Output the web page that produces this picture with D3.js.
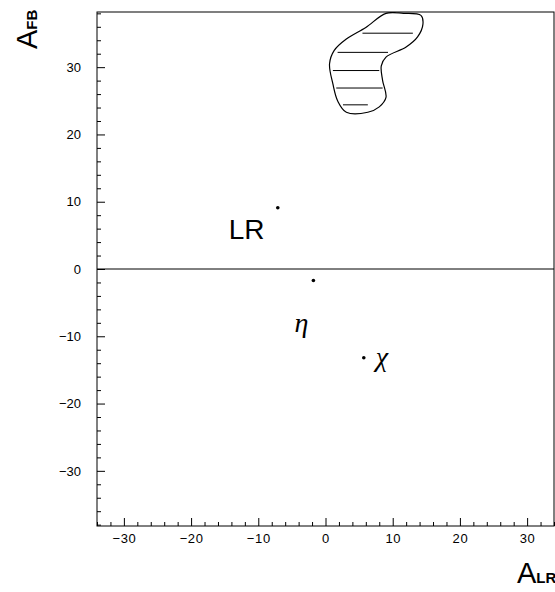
<!DOCTYPE html>
<html>
<head>
<meta charset="utf-8">
<script src="https://cdn.jsdelivr.net/npm/d3@7"></script>
<style>
  body { margin: 0; background: #fff; }
  svg { display: block; }
</style>
</head>
<body>
<svg id="chart"></svg>
<script>
// A_FB vs A_LR plot

var points = [
    { name: "LR", x: -7.1, y: 9.1 },
    { name: "eta", x: -1.8, y: -1.7 },
    { name: "chi", x: 5.7, y: -13.2 }
]

// outline of the hatched region (A_LR, A_FB)
var regionX = [9.0, 11.6, 14.2, 14.5, 13.7, 12.0, 9.0, 8.3, 8.5, 9.0, 8.0, 6.3, 3.1, 1.8, 1.1, 0.6, 1.3, 3.1, 6.0]
var regionY = [38.0, 38.0, 37.7, 36.4, 34.5, 33.0, 31.5, 30.2, 28.0, 25.5, 24.1, 23.3, 23.3, 25.0, 27.5, 30.5, 32.5, 34.2, 35.9]

// hatch lines inside it
var hatchY = [35.05, 32.2, 29.5, 26.9, 24.4]
var hatchX0 = [5.5, 1.8, 1.1, 1.6, 2.6]
var hatchX1 = [13.0, 9.3, 8.0, 8.5, 6.3]

var xTicks = [-30, -20, -10, 0, 10, 20, 30]
var yTicks = [-30, -20, -10, 0, 10, 20, 30]

var dimensions = {
    width: 555,
    height: 592,
    margin: {
        top: 12,
        bottom: 66,
        right: 1,
        left: 97
    }
}

var svg = d3.select('#chart')
    .attr("width", dimensions.width)
    .attr("height", dimensions.height)

var xScale = d3.scaleLinear()
    .domain([-34, 34])
    .range([dimensions.margin.left, dimensions.width - dimensions.margin.right])

var yScale = d3.scaleLinear()
    .domain([-38.2, 38.2])
    .range([dimensions.height - dimensions.margin.bottom, dimensions.margin.top])

var font = "'Liberation Sans', Arial, sans-serif"

svg.append("clipPath")
    .attr("id", "plotclip")
    .append("rect")
    .attr("x", xScale(-34))
    .attr("y", yScale(38.2))
    .attr("width", xScale(34) - xScale(-34))
    .attr("height", yScale(-38.2) - yScale(38.2))

// frame
svg.append("rect")
    .attr("x", xScale(-34))
    .attr("y", yScale(38.2))
    .attr("width", xScale(34) - xScale(-34))
    .attr("height", yScale(-38.2) - yScale(38.2))
    .attr("fill", "none")
    .attr("stroke", "#000")
    .attr("stroke-width", 1)

// minor + major ticks (pointing into the plot)
var minorX = d3.range(-34, 35, 2).filter(d => d % 10 != 0)
var minorY = d3.range(-38, 39, 2).filter(d => d % 10 != 0)

var xAxisG = svg.append("g")
    .attr("transform", `translate(0,${yScale(-38.2)})`)
xAxisG.append("g")
    .call(d3.axisBottom(xScale).tickValues(minorX).tickSize(-4).tickFormat(""))
xAxisG.append("g")
    .call(d3.axisBottom(xScale).tickValues(xTicks).tickSize(-8).tickPadding(8)
        .tickFormat(d => d < 0 ? "\u2212" + Math.abs(d) : d))
xAxisG.selectAll(".domain").remove()
xAxisG.selectAll("text")
    .style("font-family", font)
    .style("font-size", "13px")
    .style("letter-spacing", "0.6px")
    .attr("fill", "#000")

var yAxisG = svg.append("g")
    .attr("transform", `translate(${xScale(-34)},0)`)
yAxisG.append("g")
    .call(d3.axisLeft(yScale).tickValues(minorY).tickSize(-4).tickFormat(""))
yAxisG.append("g")
    .call(d3.axisLeft(yScale).tickValues(yTicks).tickSize(-8).tickPadding(16)
        .tickFormat(d => d < 0 ? "\u2212" + Math.abs(d) : d))
yAxisG.selectAll(".domain").remove()
yAxisG.selectAll("text")
    .style("font-family", font)
    .style("font-size", "13px")
    .attr("fill", "#000")

svg.selectAll(".tick line").attr("stroke", "#000")

// zero line
svg.append("line")
    .attr("x1", xScale(-34))
    .attr("x2", xScale(34))
    .attr("y1", yScale(0))
    .attr("y2", yScale(0))
    .attr("stroke", "#000")
    .attr("stroke-width", 1)

// hatched region
var region = regionX.map((x, i) => [x, regionY[i]])
var regionLine = d3.line()
    .x(d => xScale(d[0]))
    .y(d => yScale(d[1]))
    .curve(d3.curveCatmullRomClosed)

svg.append("path")
    .attr("d", regionLine(region))
    .attr("clip-path", "url(#plotclip)")
    .attr("fill", "none")
    .attr("stroke", "#000")
    .attr("stroke-width", 1.2)

svg.selectAll(".hatch")
    .data(hatchY)
    .enter()
    .append("line")
    .attr("class", "hatch")
    .attr("x1", (d, i) => xScale(hatchX0[i]))
    .attr("x2", (d, i) => xScale(hatchX1[i]))
    .attr("y1", d => yScale(d))
    .attr("y2", d => yScale(d))
    .attr("stroke", "#000")
    .attr("stroke-width", 1)

// model points
svg.selectAll(".pt")
    .data(points)
    .enter()
    .append("circle")
    .attr("class", "pt")
    .attr("cx", d => xScale(d.x))
    .attr("cy", d => yScale(d.y))
    .attr("r", 1.8)
    .attr("fill", "#000")

// point labels
svg.append("text")
    .attr("x", xScale(-7.1) - 49)
    .attr("y", yScale(9.1) + 31)
    .style("font-family", font)
    .style("font-size", "28px")
    .style("font-weight", "300")
    .text("LR")

svg.append("text")
    .attr("x", xScale(-1.8) - 19)
    .attr("y", yScale(-1.7) + 52)
    .style("font-family", "'Liberation Serif', 'DejaVu Serif', serif")
    .style("font-style", "italic")
    .style("font-size", "28px")
    .text("\u03B7")

svg.append("text")
    .attr("x", xScale(5.7) + 12)
    .attr("y", yScale(-13.2) + 8)
    .style("font-family", "'Liberation Serif', 'DejaVu Serif', serif")
    .style("font-style", "italic")
    .style("font-size", "28px")
    .text("\u03C7")

// axis titles
var xTitle = svg.append("text")
    .attr("x", 517)
    .attr("y", 583)
    .style("font-family", font)
    .style("font-size", "29px")
xTitle.append("tspan").text("A")
xTitle.append("tspan")
    .style("font-size", "15px")
    .style("font-weight", "bold")
    .text("LR")

var yTitle = svg.append("text")
    .attr("transform", "translate(37,49) rotate(-90)")
    .style("font-family", font)
    .style("font-size", "29px")
yTitle.append("tspan").text("A")
yTitle.append("tspan")
    .style("font-size", "15px")
    .style("font-weight", "bold")
    .text("FB")
</script>
</body>
</html>
